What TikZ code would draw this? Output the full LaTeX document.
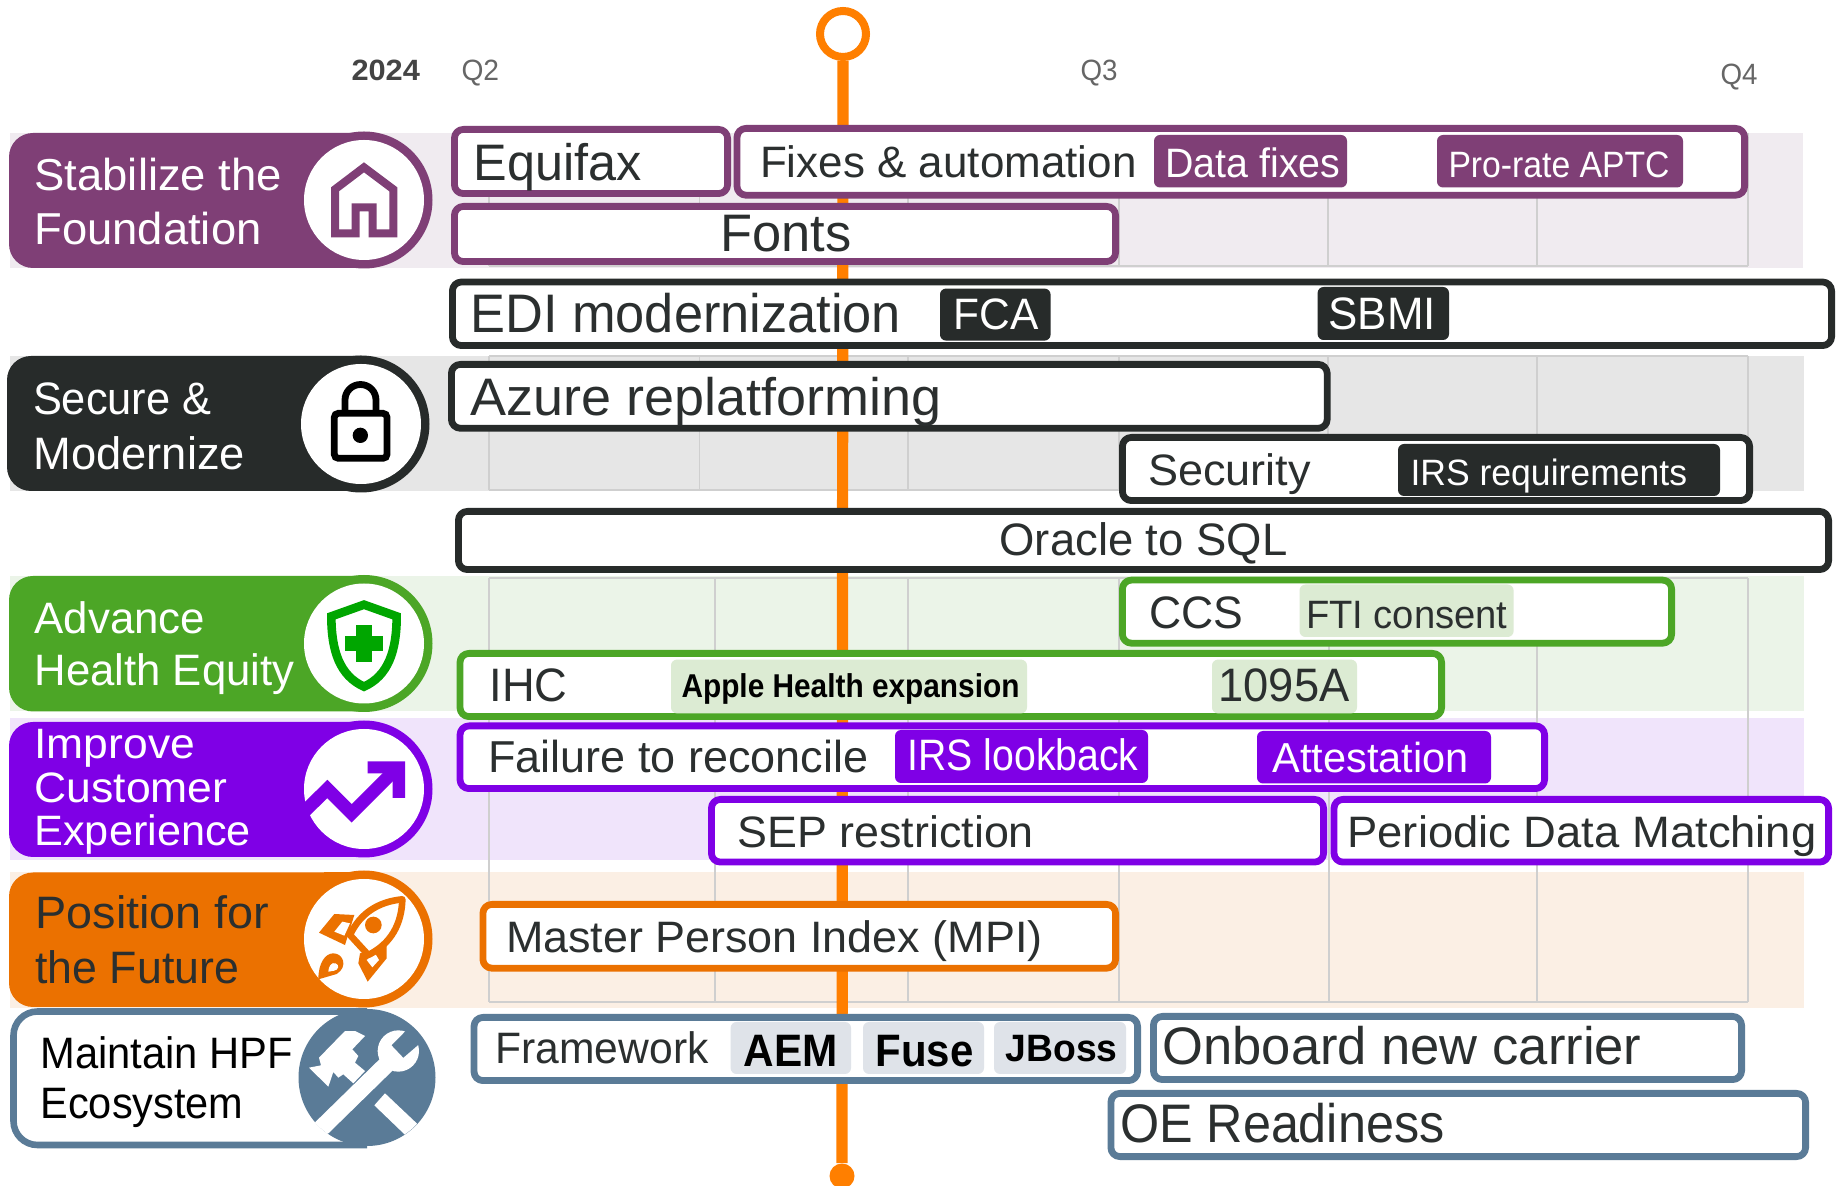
\documentclass[tikz,border=0pt]{standalone}
\usepackage{fontspec}
\usepackage{graphicx}
\setmainfont{Liberation Sans}
\definecolor{cPlum}{HTML}{7F3F76}
\definecolor{cDark}{HTML}{272B2A}
\definecolor{cGreen}{HTML}{4CA626}
\definecolor{cViolet}{HTML}{7F00E6}
\definecolor{cOrange}{HTML}{EB7100}
\definecolor{cSteel}{HTML}{5A7B97}
\definecolor{cLine}{HTML}{FF7F00}
\definecolor{bPlum}{HTML}{F0EBF0}
\definecolor{bDark}{HTML}{E6E6E6}
\definecolor{bGreen}{HTML}{EBF4E8}
\definecolor{bViolet}{HTML}{F0E4FB}
\definecolor{bOrange}{HTML}{FBEFE4}
\definecolor{chGreen}{HTML}{DCEBD3}
\definecolor{chSteel}{HTML}{DFE3E9}
\definecolor{cText}{HTML}{2B2F2F}
\definecolor{cQ}{HTML}{666666}
\definecolor{cYear}{HTML}{444444}
\definecolor{cGrid}{HTML}{CFCFCF}
\definecolor{cShield}{HTML}{00A600}
\tikzset{
  txt/.style={inner sep=0pt,outer sep=0pt,anchor=base west},
  wtxt/.style={txt,text=white},
  dtxt/.style={txt,text=cText},
  btxt/.style={txt,text=black,font=\bfseries},
  gridline/.style={draw=cGrid,line width=0.9pt},
  barline/.style={line width=3.4pt,rounded corners=4.5pt,fill=white,line join=round},
  chipbox/.style={rounded corners=3pt},
  icon/.style={x=0.16667pt,y=-0.16667pt},
}
% name, x1, x2, baseline, cap height, style, text
\newcommand\tx[7]{%
  \pgfmathsetmacro\fsz{#5*1.05/0.716/2}%
  \pgfmathsetmacro\twd{(#3-#2+2)/2}%
  \pgfmathsetmacro\tlx{#2-0.5}%
  \pgfmathsetmacro\tly{#4+1}%
  \node[#6] (#1) at (\tlx,\tly) {\fontsize{\fsz}{\fsz}\selectfont\resizebox{\twd pt}{\height}{#7}};%
}
% colour, outer x1,y1,x2,y2
\newcommand\pbar[5]{%
  \pgfmathsetmacro\ax{#2+3.4}\pgfmathsetmacro\ay{#3+3.4}%
  \pgfmathsetmacro\bx{#4-3.4}\pgfmathsetmacro\by{#5-3.4}%
  \draw[barline,draw=#1] (\ax,\ay) rectangle (\bx,\by);%
}
\newcommand\chip[5]{\fill[chipbox,#1] (#2,#3) rectangle (#4,#5);}
% colour, left, top, bottom, circle cx, cy
\newcommand\pill[6]{%
  \fill[#1,rounded corners=12pt] (#5,#3) -- (#2,#3) -- (#2,#4) -- (#5,#4);%
  \fill[#1] (#5-40,#3) rectangle (#5,#4);%
  \fill[#1] (#5,#6) circle[radius=68.5];%
  \fill[white] (#5,#6) circle[radius=60];%
}
\begin{document}
\begin{tikzpicture}[x=0.5pt,y=-0.5pt]
\useasboundingbox (0,0) rectangle (1838,1186);
\fill[white] (0,0) rectangle (1838,1186);
% bands
\fill[bPlum]   (10,133) rectangle (1803,268);
\fill[bDark]   (10,356) rectangle (1804,491);
\fill[bGreen]  (10,576) rectangle (1804,711);
\fill[bViolet] (10,718.5) rectangle (1804,860);
\fill[bOrange] (10,872.5) rectangle (1804,1008);
% grids
\draw[gridline] (489,266)--(1748,266);
\foreach \gx in {489,699.5,908,1119,1327.6,1537,1748} \draw[gridline] (\gx,133)--(\gx,266);
\draw[gridline] (489,356)--(1748,356) (489,490)--(1748,490);
\foreach \gx in {489,699.5,908,1119,1327.6,1537,1748} \draw[gridline] (\gx,356)--(\gx,490);
\draw[gridline] (489,578)--(1748,578) (489,1002)--(1748,1002);
\foreach \gx in {489,715,908,1119,1329,1537,1748} \draw[gridline] (\gx,578)--(\gx,1002);
% timeline
\node[circle,draw=cLine,fill=white,line width=4pt,minimum size=23pt,inner sep=0pt] (now) at (843,34) {};
\node[circle,fill=cLine,minimum size=12.5pt,inner sep=0pt] (end) at (842,1176) {};
\draw[cLine,line width=5.6pt] (now) -- (end);
% pills
\pill{cPlum}{9}{133}{268}{364}{200}
\pill{cDark}{7}{356}{491}{361}{424}
\pill{cGreen}{9}{576}{711.5}{364}{643.5}
\pill{cViolet}{9}{722}{857}{364}{789}
\pill{cOrange}{9}{872.5}{1007}{364}{939}
\draw[cSteel,line width=3.3pt,fill=white,rounded corners=12pt] (367,1011.5) -- (13.5,1011.5) -- (13.5,1145) -- (367,1145);
\fill[cSteel] (367,1077.5) circle[radius=68.5];
% house
\begin{scope}[shift={(295,130)},icon]
\draw[cPlum,line width=4pt,miter limit=10] (120,310) -- (120,178) -- (207,112) -- (295,178) -- (295,310) -- (233,310) -- (233,232) -- (182,232) -- (182,310) -- cycle;
\end{scope}
% lock
\begin{scope}[shift={(295,355)},icon]
\draw[black,line width=3.4pt,rounded corners=2pt] (118,175) rectangle (276,310);
\draw[black,line width=3.4pt] (150,175) -- (150,135) arc[start angle=180,end angle=360,radius=46.5] -- (243,175);
\fill[black] (196,241) circle[radius=23];
\end{scope}
% shield
\begin{scope}[shift={(295,574)},icon]
\draw[cShield,line width=4.3pt,line join=miter] (207,92) -- (305,127) .. controls (305,230) and (280,305) .. (207,338) .. controls (134,305) and (109,230) .. (109,127) -- cycle;
\fill[cShield] (184,153) rectangle (232,265);
\fill[cShield] (151,185) rectangle (265,232);
\end{scope}
% trend arrow
\begin{scope}[shift={(295,720)},icon]
\begin{scope}
\clip (207,207) circle[radius=186];
\draw[cViolet,line width=6.5pt,line join=miter] (0,302) -- (97,207) -- (170,280) -- (305,145);
\end{scope}
\fill[cViolet] (218,124) -- (330,124) -- (330,234) -- (293,234) -- (293,160) -- (218,160) -- cycle;
\end{scope}
% rocket
\begin{scope}[shift={(295,870)},icon]
\fill[cOrange] (72,188) -- (118,132) -- (178,135) -- (150,225) -- cycle;
\fill[cOrange] (195,250) -- (275,225) -- (275,265) -- (218,335) -- (190,280) -- cycle;
\fill[white] (118,185) -- (142,155) -- (165,160) -- (148,197) -- cycle;
\fill[white] (215,270) -- (240,250) -- (252,270) -- (232,292) -- cycle;
\draw[cOrange,line width=3.3pt,fill=white,line join=round] (322,88) .. controls (250,95) and (195,130) .. (165,195) -- (220,255) .. controls (290,220) and (320,160) .. (322,88) -- cycle;
\fill[cOrange] (235,165) circle[radius=25];
\fill[cOrange] (70,328) .. controls (70,280) and (90,250) .. (115,250) .. controls (145,250) and (160,290) .. (125,312) -- cycle;
\fill[white] (100,305) .. controls (100,290) and (110,275) .. (122,280) .. controls (135,285) and (130,300) .. (118,302) -- cycle;
\end{scope}
% tools
\begin{scope}[shift={(295,1006)},icon]
\clip (215,215) circle[radius=205];
\fill[white] (238,298) -- (270,262) -- (400,385) -- (365,420) -- cycle;
\fill[white] (42,185) -- (78,178) -- (72,155) -- (150,75) -- (180,75) -- (210,90) -- (172,130) -- (190,150) -- (180,170) -- (210,195) -- (175,232) -- (145,205) -- (130,215) -- (115,198) -- (100,242) -- cycle;
\draw[white,line width=8.6pt] (50,395) -- (275,175);
\fill[white] (310,135) circle[radius=62];
\fill[cSteel] (290,118) -- (335,72) -- (400,80) -- (375,112) -- (325,155) -- cycle;
\end{scope}
% bars
\pbar{cPlum}{451}{126}{731}{197}
\pbar{cPlum}{733.6}{125}{1748}{198.6}
\pbar{cPlum}{451}{203}{1119}{265}
\pbar{cDark}{449}{278.6}{1835}{349}
\pbar{cDark}{448}{361}{1330.6}{431.7}
\pbar{cDark}{1119}{434}{1753}{504}
\pbar{cDark}{455}{508}{1832}{573}
\pbar{cGreen}{1119}{576.7}{1675}{646.6}
\pbar{cGreen}{456.6}{650}{1445}{720}
\pbar{cViolet}{456.6}{722.5}{1548}{792}
\pbar{cViolet}{708}{796}{1327}{865.5}
\pbar{cViolet}{1330.6}{796}{1832}{865.5}
\pbar{cOrange}{479.5}{901}{1119}{971.6}
\pbar{cSteel}{470.6}{1014}{1141}{1084}
\pbar{cSteel}{1150}{1013}{1745}{1083}
\pbar{cSteel}{1107.5}{1090}{1809}{1160}
% chips
\chip{cPlum}{1154}{135}{1347}{187.5}
\chip{cPlum}{1437}{135}{1683}{187.5}
\chip{cDark}{940}{288.6}{1050.6}{340.6}
\chip{cDark}{1317.6}{287}{1449}{340}
\chip{cDark}{1398}{444}{1720}{496}
\chip{chGreen}{1299.5}{584.5}{1513.6}{637}
\chip{chGreen}{671}{659.6}{1027}{713.4}
\chip{chGreen}{1212}{659.6}{1357}{713.4}
\chip{cViolet}{895}{730}{1148}{783}
\chip{cViolet}{1257}{731}{1491}{783.5}
\chip{chSteel}{730.6}{1022}{851}{1074}
\chip{chSteel}{863}{1022}{984}{1074}
\chip{chSteel}{994}{1022}{1126}{1074}
% header
\tx{y2024}{352}{418.4}{79.6}{20}{txt,text=cYear,font=\bfseries}{2024}
\tx{q2}{462}{497.6}{79.6}{20}{txt,text=cQ}{Q2}
\tx{q3}{1081}{1116}{79.6}{20}{txt,text=cQ}{Q3}
\tx{q4}{1721}{1756}{83.4}{20}{txt,text=cQ}{Q4}
% pill labels
\tx{l1a}{35}{280.5}{190}{30.5}{wtxt}{Stabilize the}
\tx{l1b}{35}{260}{244}{30.5}{wtxt}{Foundation}
\tx{l2a}{33.5}{210}{414}{31}{wtxt}{Secure \&}
\tx{l2b}{34}{243.5}{469}{31}{wtxt}{Modernize}
\tx{l3a}{35}{203.6}{633}{30}{wtxt}{Advance}
\tx{l3b}{35}{293}{684.7}{30}{wtxt}{Health Equity}
\tx{l4a}{35}{193.6}{758}{29}{wtxt}{Improve}
\tx{l4b}{35}{226}{802}{29}{wtxt}{Customer}
\tx{l4c}{35}{249.4}{845}{29}{wtxt}{Experience}
\tx{l5a}{36}{268}{927.6}{31}{dtxt}{Position for}
\tx{l5b}{36}{237.7}{982.6}{31}{dtxt}{the Future}
\tx{l6a}{41}{291.7}{1068}{30}{txt,text=black}{Maintain HPF}
\tx{l6b}{41}{242}{1118}{30}{txt,text=black}{Ecosystem}
% bar labels
\tx{t1}{474}{640}{180}{35}{dtxt}{Equifax}
\tx{t2}{760.6}{1135}{177}{30}{dtxt}{Fixes \& automation}
\tx{t3}{1166}{1339}{177}{28}{wtxt}{Data fixes}
\tx{t4}{1449}{1668}{177}{25}{wtxt}{Pro-rate APTC}
\tx{t5}{720.7}{849.8}{250.7}{36}{dtxt}{Fonts}
\tx{t6}{471}{899.6}{331.4}{37}{dtxt}{EDI modernization}
\tx{t7}{954}{1037}{329}{30}{wtxt}{FCA}
\tx{t8}{1329}{1434.4}{329}{31}{wtxt}{SBMI}
\tx{t9}{471}{940}{415}{36}{dtxt}{Azure replatforming}
\tx{t10}{1148.6}{1309.4}{485}{30}{dtxt}{Security}
\tx{t11}{1411}{1685.6}{485}{25}{wtxt}{IRS requirements}
\tx{t12}{1000}{1286}{555}{31}{dtxt}{Oracle to SQL}
\tx{t13}{1150}{1242}{627.8}{31}{dtxt}{CCS}
\tx{t14}{1306.5}{1506}{627.8}{27}{dtxt}{FTI consent}
\tx{t15}{490}{566}{700.5}{32}{dtxt}{IHC}
\tx{t16}{682}{1018}{696.5}{22.5}{btxt}{Apple Health expansion}
\tx{t17}{1219}{1348}{701}{32}{dtxt}{1095A}
\tx{t18}{489}{867}{772}{30.5}{dtxt}{Failure to reconcile}
\tx{t19}{908}{1137}{770}{30}{wtxt}{IRS lookback}
\tx{t20}{1273}{1467}{771.6}{28.6}{wtxt}{Attestation}
\tx{t21}{738}{1032.4}{847}{30}{dtxt}{SEP restriction}
\tx{t22}{1348}{1815}{847}{30}{dtxt}{Periodic Data Matching}
\tx{t23}{506.5}{1041}{952}{30}{dtxt}{Master Person Index (MPI)}
\tx{t24}{496}{707}{1063}{30}{dtxt}{Framework}
\tx{t25}{744}{836}{1065}{31}{btxt}{AEM}
\tx{t26}{876}{972}{1065}{31}{btxt}{Fuse}
\tx{t27}{1006}{1116}{1061}{26}{btxt}{JBoss}
\tx{t28}{1163}{1640}{1064}{36}{dtxt}{Onboard new carrier}
\tx{t29}{1120.5}{1443}{1141}{37}{dtxt}{OE Readiness}
\end{tikzpicture}
\end{document}
